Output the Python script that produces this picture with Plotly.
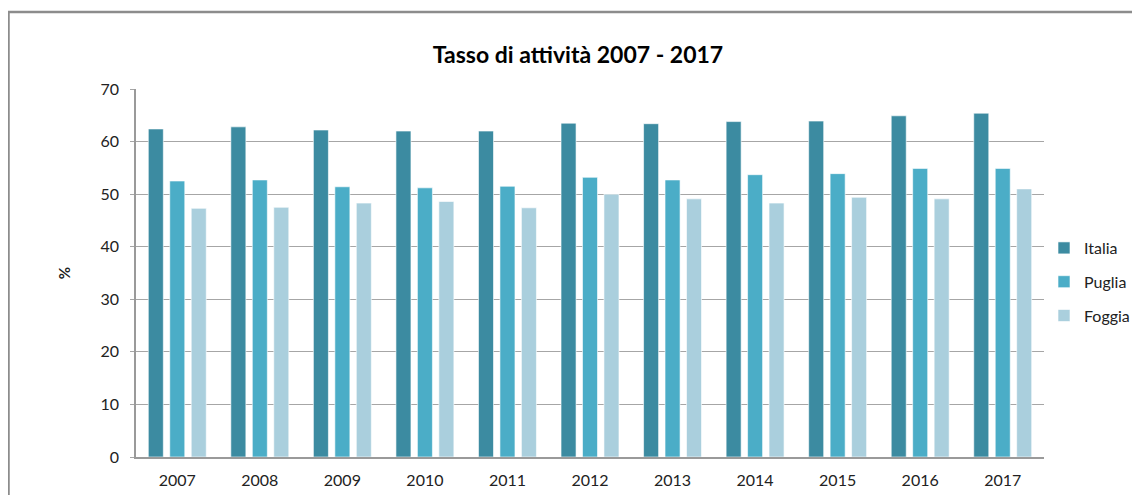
import plotly.graph_objects as go

years = ["2007", "2008", "2009", "2010", "2011", "2012", "2013", "2014", "2015", "2016", "2017"]
italia = [62.4, 62.8, 62.2, 62.0, 62.0, 63.5, 63.4, 63.8, 63.9, 64.9, 65.4]
puglia = [52.5, 52.7, 51.4, 51.2, 51.5, 53.2, 52.7, 53.7, 53.9, 54.9, 54.9]
foggia = [47.3, 47.5, 48.3, 48.6, 47.4, 50.0, 49.1, 48.3, 49.4, 49.1, 51.0]
series_names = ["Italia", "Puglia", "Foggia"]
colors = ["#3C8BA1", "#4BADC7", "#AACFDD"]

FONT = "Lato, Carlito, 'Liberation Sans', sans-serif"

fig = go.Figure()
for name, vals, col in zip(series_names, [italia, puglia, foggia], colors):
    fig.add_trace(go.Bar(
        x=years, y=vals, name=name, legendgroup=name,
        marker=dict(color=col, line=dict(color="rgba(255,255,255,0.6)", width=1)),
    ))

# page body has an 8px offset; figure coords = screen coords - 8
W, H = 1140, 495
L, R, T, B = 128, 104, 81, 46
pw, ph = W - L - R, H - T - B

def px(x):
    return (x - L) / pw

def py(y):
    return (H - B - y) / ph

fig.update_layout(
    width=W, height=H,
    margin=dict(l=L, r=R, t=T, b=B, autoexpand=False),
    paper_bgcolor="white", plot_bgcolor="white",
    barmode="group", bargap=0.22, bargroupgap=0.30,
    title=dict(text="<b>Tasso di attività 2007 - 2017</b>",
               x=px(570), xref="paper", xanchor="center",
               y=1 - 47 / H, yanchor="middle",
               font=dict(family=FONT, size=23, color="#000000")),
    font=dict(family=FONT, size=16, color="#222222"),
    legend=dict(x=1.0, xref="paper", y=py(223), yanchor="top",
                xanchor="left", font=dict(size=16, color="#222222"),
                tracegroupgap=10, itemwidth=30, bgcolor="rgba(0,0,0,0)"),
    xaxis=dict(showline=True, linecolor="#9A9A9A", linewidth=1.5,
               ticks="", tickfont=dict(size=16, color="#222222"),
               ticklabelstandoff=8, showgrid=False),
    yaxis=dict(range=[0, 70], dtick=10, showline=True, linecolor="#9A9A9A",
               linewidth=1.5, showgrid=True, gridcolor="#A6A6A6", gridwidth=1,
               ticks="outside", ticklen=4, tickcolor="#A6A6A6",
               ticklabelstandoff=8,
               tickfont=dict(size=16, color="#222222"),
               title=dict(text="<b>%</b>", font=dict(size=15, color="#222222"),
                          standoff=26),
               zeroline=False),
    showlegend=True,
)

# outer chart frame (partially visible)
fig.add_shape(type="rect", xref="paper", yref="paper",
              x0=px(0.5), x1=px(1200), y0=py(560), y1=py(4),
              line=dict(color="#8C8C8C", width=2.5), fillcolor="rgba(0,0,0,0)",
              layer="above")

fig.write_html("out.html")
